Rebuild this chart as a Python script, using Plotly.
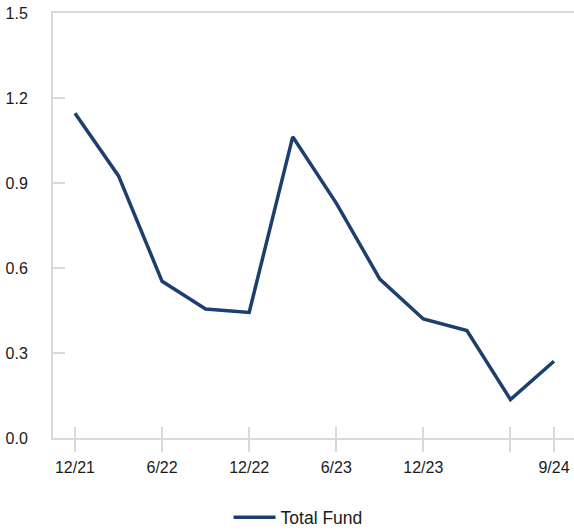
import plotly.graph_objects as go

quarters = ["12/21", "3/22", "6/22", "9/22", "12/22", "3/23", "6/23",
            "9/23", "12/23", "3/24", "6/24", "9/24"]
total_fund = [1.146, 0.925, 0.553, 0.455, 0.443, 1.063, 0.829,
              0.561, 0.420, 0.379, 0.136, 0.271]
tick_quarters = ["12/21", "6/22", "12/22", "6/23", "12/23", "6/24", "9/24"]
tick_labels = ["12/21", "6/22", "12/22", "6/23", "12/23", "", "9/24"]
y_ticks = [0.0, 0.3, 0.6, 0.9, 1.2, 1.5]
y_labels = ["0.0", "0.3", "0.6", "0.9", "1.2", "1.5"]

navy = "#1c3f6e"
grey = "#d9d9d9"
font = "Liberation Sans, Arial, sans-serif"

fig = go.Figure()
fig.add_trace(go.Scatter(x=quarters, y=total_fund, mode="lines", name="Total Fund",
                         line=dict(color=navy, width=3.5)))
# invisible trace on overlay axis for inner tick marks
fig.add_trace(go.Scatter(x=quarters, y=total_fund, mode="lines", xaxis="x2",
                         line=dict(color="rgba(0,0,0,0)", width=0),
                         showlegend=False, hoverinfo="skip"))

xr = [-0.505, 11.46]
fig.update_layout(
    width=574, height=530,
    margin=dict(l=53, r=0, t=13, b=91.5, autoexpand=False),
    paper_bgcolor="white", plot_bgcolor="white",
    font=dict(family=font, size=16, color="#1a1a1a"),
    showlegend=True,
    legend=dict(orientation="h", x=0.337, xanchor="left", y=-0.187, yanchor="middle",
                itemwidth=42,
                font=dict(size=17.5, color="#1a1a1a"), bgcolor="rgba(0,0,0,0)"),
    xaxis=dict(type="category", categoryorder="array", categoryarray=quarters,
               range=xr, showgrid=False, zeroline=False, automargin=False,
               showline=True, linecolor=grey, linewidth=2, mirror=True,
               ticks="outside", ticklen=12, tickwidth=2, tickcolor=grey,
               tickmode="array", tickvals=tick_quarters, ticktext=tick_labels,
               ticklabelstandoff=2, tickfont=dict(size=16)),
    xaxis2=dict(type="category", categoryorder="array", categoryarray=quarters,
                overlaying="x", range=xr, showgrid=False, zeroline=False,
                automargin=False,
                showline=False, ticks="inside", ticklen=11, tickwidth=2, tickcolor=grey,
                tickmode="array", tickvals=tick_quarters, showticklabels=False,
                side="bottom", anchor="y"),
    yaxis=dict(range=[0, 1.5], showgrid=False, zeroline=False, automargin=False,
               showline=True, linecolor=grey, linewidth=2,
               ticks="inside", ticklen=12, tickwidth=2, tickcolor=grey,
               tickmode="array", tickvals=y_ticks, ticktext=y_labels,
               ticklabelstandoff=20, tickfont=dict(size=16)),
)

fig.write_html("out.html", config={"displayModeBar": False},
               post_script="document.body.style.margin='0';document.body.style.overflow='hidden';")
